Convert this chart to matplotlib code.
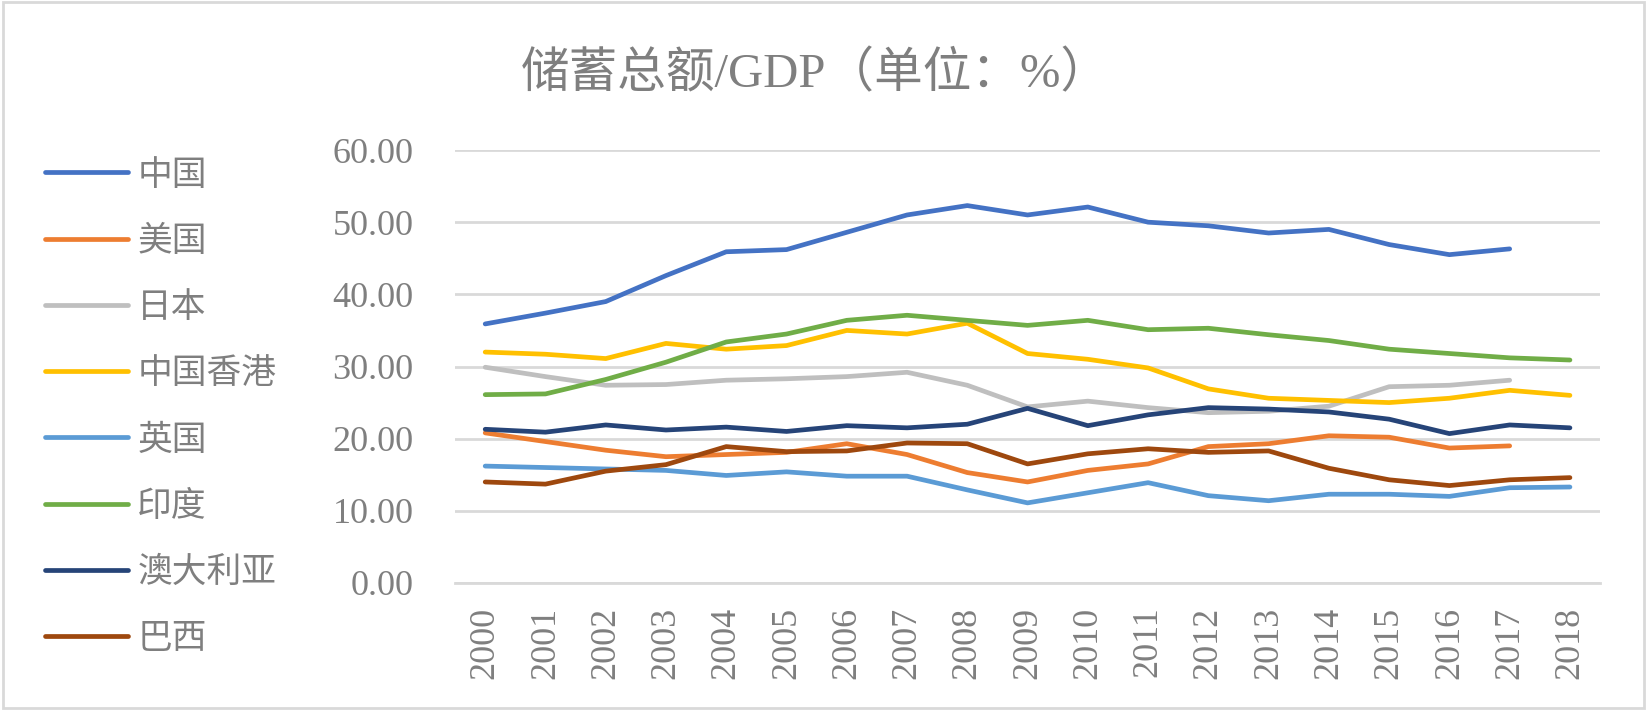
import matplotlib.pyplot as plt
import numpy as np

years = [str(y) for y in range(2000, 2019)]
countries = ['中国', '美国', '日本', '中国香港', '英国', '印度', '澳大利亚', '巴西']
colors = ['#4472c4', '#ed7d31', '#bfbfbf', '#ffc000', '#5b9bd5', '#70ad47', '#264478', '#9e480e']

china = [35.9, 37.4, 39.0, 42.6, 45.9, 46.2, 48.6, 51.0, 52.3, 51.0,
         52.1, 50.0, 49.5, 48.5, 49.0, 46.9, 45.5, 46.3, np.nan]
usa = [20.8, 19.6, 18.4, 17.5, 17.8, 18.1, 19.3, 17.8, 15.3, 14.0,
       15.6, 16.5, 18.9, 19.3, 20.4, 20.2, 18.7, 19.0, np.nan]
japan = [29.9, 28.6, 27.4, 27.5, 28.1, 28.3, 28.6, 29.2, 27.4, 24.4,
         25.2, 24.3, 23.6, 23.8, 24.5, 27.2, 27.4, 28.1, np.nan]
hongkong = [32.0, 31.7, 31.1, 33.2, 32.4, 32.9, 35.0, 34.5, 36.0, 31.8,
            31.0, 29.8, 26.9, 25.6, 25.3, 25.0, 25.6, 26.7, 26.0]
uk = [16.2, 16.0, 15.8, 15.6, 14.9, 15.4, 14.8, 14.8, 12.9, 11.1,
      12.5, 13.9, 12.1, 11.4, 12.3, 12.3, 12.0, 13.2, 13.3]
india = [26.1, 26.2, 28.2, 30.6, 33.4, 34.5, 36.4, 37.1, 36.4, 35.7,
         36.4, 35.1, 35.3, 34.4, 33.6, 32.4, 31.8, 31.2, 30.9]
australia = [21.3, 20.9, 21.9, 21.2, 21.6, 21.0, 21.8, 21.5, 22.0, 24.2,
             21.8, 23.3, 24.3, 24.1, 23.7, 22.7, 20.7, 21.9, 21.5]
brazil = [14.0, 13.7, 15.5, 16.4, 18.9, 18.2, 18.3, 19.4, 19.3, 16.5,
          17.9, 18.6, 18.1, 18.3, 15.9, 14.3, 13.5, 14.3, 14.6]
series = [china, usa, japan, hongkong, uk, india, australia, brazil]

txt = '#7f7f7f'
serif = ['Liberation Serif', 'Noto Sans CJK SC']
cjk = ['Noto Sans CJK SC', 'DejaVu Sans']

fig = plt.figure(figsize=(16.47, 7.10), dpi=100)
ax = fig.add_axes([0.2763, 0.1789, 0.6952, 0.6098])

x = np.arange(len(years))
for vals, name, c in zip(series, countries, colors):
    ax.plot(x, vals, color=c, lw=3.4, label=name, solid_capstyle='round',
            solid_joinstyle='round')

ax.set_xlim(-0.5, len(years) - 0.5)
ax.set_ylim(0, 60)
ax.set_yticks(np.arange(0, 61, 10))
ax.set_yticklabels(['%.2f' % v for v in np.arange(0, 61, 10)],
                   family=serif, fontsize=26, color=txt)
ax.set_xticks(x)
ax.set_xticklabels(years, rotation=90, family=serif, fontsize=26, color=txt)
ax.tick_params(length=0)
ax.tick_params(axis='x', pad=17)
ax.tick_params(axis='y', pad=30)
ax.grid(axis='y', color='#d9d9d9', lw=2)
ax.set_axisbelow(True)
for s in ax.spines.values():
    s.set_visible(False)
ax.spines['bottom'].set_visible(True)
ax.spines['bottom'].set_color('#d9d9d9')
ax.spines['bottom'].set_linewidth(2)

fig.text(0.495, 0.895, '储蓄总额/GDP（单位：%）', ha='center', va='center',
         fontsize=35, color=txt, family=serif)

leg = fig.legend(loc='upper left', bbox_to_anchor=(0.0273, 0.778), frameon=False,
                 prop={'family': cjk, 'size': 25}, labelspacing=0.90, borderpad=0,
                 borderaxespad=0, handlelength=2.4, handletextpad=0.26, labelcolor=txt)

fig.patches.append(plt.Rectangle((0.002, 0.003), 0.996, 0.994, transform=fig.transFigure,
                                 fill=False, edgecolor='#d9d9d9', lw=2))

fig.savefig('out.png', dpi=100)
